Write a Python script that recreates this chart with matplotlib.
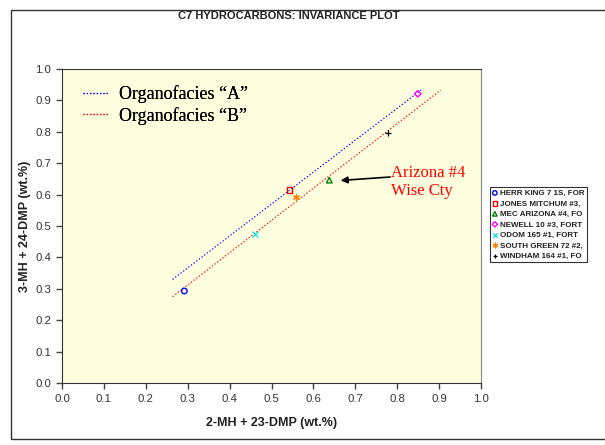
import numpy as np
import matplotlib.pyplot as plt
from matplotlib.patches import Rectangle

plt.rcParams['font.family'] = ['Liberation Sans', 'DejaVu Sans']

# wells (x = 2-MH + 23-DMP, y = 3-MH + 24-DMP)
wells = ["HERR KING 7 1S, FOR", "JONES MITCHUM #3,", "MEC ARIZONA #4, FO",
         "NEWELL 10 #3, FORT", "ODOM 165 #1, FORT", "SOUTH GREEN 72 #2,",
         "WINDHAM 164 #1, FO"]
x_vals = [0.292, 0.543, 0.638, 0.849, 0.461, 0.558, 0.779]
y_vals = [0.293, 0.615, 0.646, 0.921, 0.475, 0.591, 0.795]
colors = ["#0000ff", "#ff0000", "#008000", "#ff00ff", "#00e5e5", "#ff8000", "#000000"]
markers = ["o", "s", "^", "D", "x", (6, 2, 0), "+"]

# organofacies lines (end points)
line_a_x = [0.264, 0.857]
line_a_y = [0.330, 0.933]
line_b_x = [0.264, 0.904]
line_b_y = [0.275, 0.933]

ticks = np.arange(0, 1.01, 0.1)

fig = plt.figure(figsize=(6.05, 4.45), dpi=100)
fig.patch.set_facecolor("white")

# outer frame
fig.add_artist(Rectangle((11 / 605, 1 - 439 / 445), 1.0, 429 / 445,
                         transform=fig.transFigure, fill=False,
                         edgecolor="#333333", linewidth=1.0, clip_on=False))

ax = fig.add_axes([62 / 605, 1 - 383 / 445, 419 / 605, 314 / 445])
ax.set_facecolor("#ffffe0")

la, = ax.plot(line_a_x, line_a_y, ls=":", color="#0000ff", lw=0.9)
lb, = ax.plot(line_b_x, line_b_y, ls=":", color="#ff0000", lw=0.9)

handles = []
for xv, yv, c, m, name in zip(x_vals, y_vals, colors, markers, wells):
    if m in ("x", "+", (6, 2, 0)):
        h = ax.scatter([xv], [yv], marker=m, color=c, s=18, linewidths=0.9, zorder=3)
    elif m == "D":
        h = ax.scatter([xv], [yv], marker=m, facecolors="none", edgecolors=c,
                       s=11, linewidths=1.0, zorder=3)
    else:
        h = ax.scatter([xv], [yv], marker=m, facecolors="none", edgecolors=c,
                       s=16, linewidths=1.0, zorder=3)
    handles.append(h)

ax.set_xlim(0, 1)
ax.set_ylim(0, 1)
ax.set_xticks(ticks)
ax.set_yticks(ticks)
ax.set_xticklabels([f"{t:.1f}" for t in ticks])
ax.set_yticklabels([f"{t:.1f}" for t in ticks])
ax.tick_params(direction="out", length=4, width=1, colors="#444444",
               labelsize=8.2, labelcolor="#333333", pad=4)
for s in ax.spines.values():
    s.set_color("#333333")
ax.spines["right"].set_color("#888888")

ax.set_xlabel("2-MH + 23-DMP (wt.%)", fontsize=9, fontweight="bold", color="#222222")
ax.set_ylabel("3-MH + 24-DMP (wt.%)", fontsize=9, fontweight="bold", color="#222222")
ax.xaxis.set_label_coords(0.5, -(423 - 383) / 314)
ax.yaxis.set_label_coords(-(62 - 25) / 419, 0.5)
ax.yaxis.label.set_va("center")
ax.xaxis.label.set_va("center")

fig.text(289 / 605, 1 - 16 / 445, "C7 HYDROCARBONS: INVARIANCE PLOT",
         ha="center", va="center", fontsize=8, fontweight="bold", color="#222222")

leg1 = ax.legend([la, lb], ["Organofacies \u201cA\u201d", "Organofacies \u201cB\u201d"],
                 loc="upper left", bbox_to_anchor=(0.012, 1.0), frameon=False,
                 prop={"family": "Liberation Serif", "size": 13},
                 handlelength=1.4, handletextpad=0.6, labelspacing=0.2)
ax.add_artist(leg1)

ax.annotate("", xy=(0.665, 0.645), xytext=(0.783, 0.656),
            arrowprops=dict(arrowstyle="-|>", color="black", lw=1.2,
                            mutation_scale=10, shrinkA=0, shrinkB=0))
ax.text(0.785, 0.640, "Arizona #4\nWise Cty", fontsize=12, family="Liberation Serif",
        color="#ff0000", ha="left", va="center", linespacing=1.1)

leg2 = fig.legend(handles, wells, loc="upper left",
                  bbox_to_anchor=(490 / 605, 1 - 187 / 445),
                  prop={"family": "Liberation Sans", "size": 5.8, "weight": "bold"},
                  frameon=True, fancybox=False, edgecolor="black",
                  handlelength=0.6, handletextpad=0.3, labelspacing=0.35,
                  borderpad=0.3, borderaxespad=0, markerscale=0.8)
leg2.get_frame().set_linewidth(0.8)
for t in leg2.get_texts():
    t.set_color("#222222")

fig.savefig("out.png", dpi=100)
